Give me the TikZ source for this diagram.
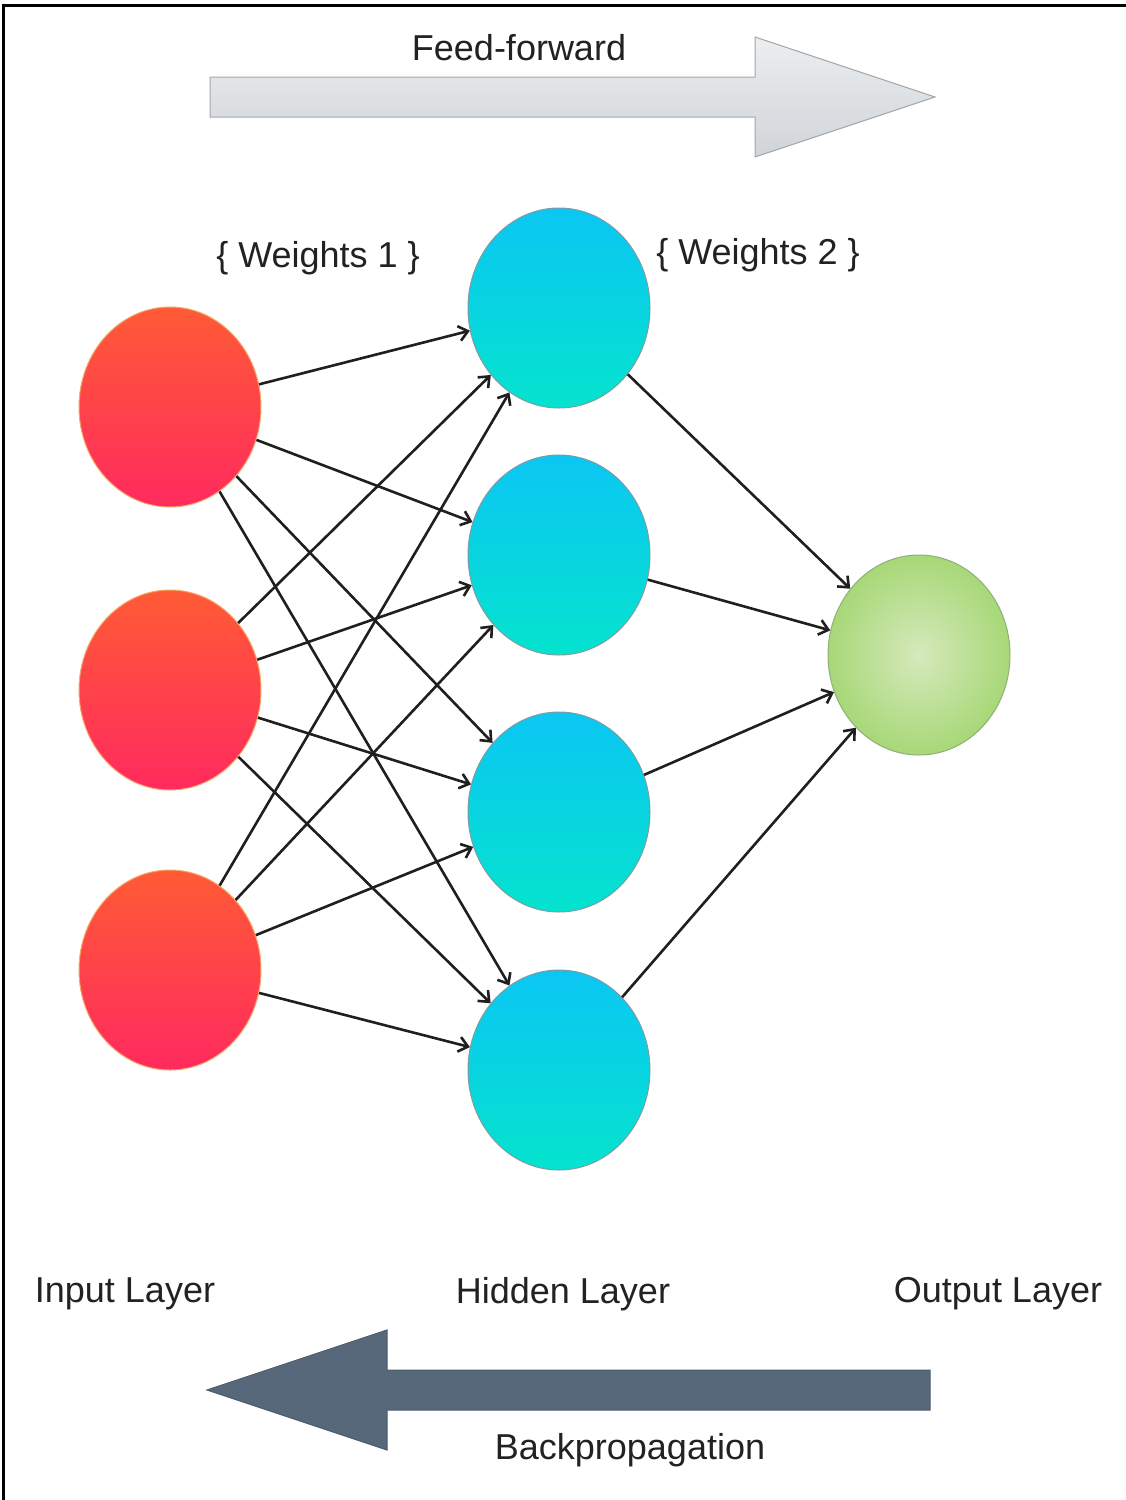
\documentclass[tikz,border=0pt]{standalone}
\usepackage{fontspec}
\setmainfont{Liberation Sans}
\usetikzlibrary{shapes.geometric,arrows.meta}
\definecolor{inTop}{HTML}{FF5B36}
\definecolor{inBot}{HTML}{FF2A5E}
\definecolor{inBorder}{HTML}{F4A868}
\definecolor{hidTop}{HTML}{0BC6F3}
\definecolor{hidBot}{HTML}{05E3CE}
\definecolor{hidBorder}{HTML}{7E9CA2}
\definecolor{outInner}{HTML}{D6E9BC}
\definecolor{outOuter}{HTML}{A7D877}
\definecolor{outBorder}{HTML}{8FAF78}
\definecolor{ffTop}{HTML}{ECEEF0}
\definecolor{ffBot}{HTML}{D0D4D8}
\definecolor{ffBorder}{HTML}{A3A7AB}
\definecolor{bpFill}{HTML}{56687A}
\definecolor{bpBorder}{HTML}{4C5C6C}
\definecolor{txt}{HTML}{222222}
\tikzset{
  neuron/.style={ellipse, minimum width=182pt, minimum height=200pt, inner sep=0pt, line width=1pt},
  inp/.style={neuron, top color=inTop, bottom color=inBot, draw=inBorder},
  hid/.style={neuron, top color=hidTop, bottom color=hidBot, draw=hidBorder},
  outn/.style={neuron, inner color=outInner, outer color=outOuter, draw=outBorder},
  conn/.style={-{Straight Barb[length=9pt,width=15pt]}, line width=2.6pt, color=black!88},
  lbl/.style={font=\fontsize{36}{40}\selectfont, text=txt, inner sep=0pt}
}
\begin{document}
\begin{tikzpicture}[x=1pt,y=-1pt]
\useasboundingbox (0,0) rectangle (1126,1500);
\fill[white] (0,0) rectangle (1126,1500);
% frame (left and top only)
\draw[line width=3pt, black] (3,1500) -- (3,5) -- (1126,5);

% feed-forward arrow
\draw[top color=ffTop, bottom color=ffBot, draw=ffBorder, line width=1pt]
  (210,77) -- (755,77) -- (755,37) -- (935,97) -- (755,157) -- (755,117) -- (210,117) -- cycle;
\node[lbl] (ff) at (519,48) {Feed-forward};

% backpropagation arrow
\draw[fill=bpFill, draw=bpBorder, line width=1pt]
  (930,1370) -- (387,1370) -- (387,1330) -- (207,1390) -- (387,1450) -- (387,1410) -- (930,1410) -- cycle;
\node[lbl] (bp) at (630,1450) {Backpropagation};

% neurons
\node[inp] (i1) at (170,407) {};
\node[inp] (i2) at (170,690) {};
\node[inp] (i3) at (170,970) {};
\node[hid] (h1) at (559,308) {};
\node[hid] (h2) at (559,555) {};
\node[hid] (h3) at (559,812) {};
\node[hid] (h4) at (559,1070) {};
\node[outn] (o) at (919,655) {};

% weights 1
\foreach \a in {i1,i2,i3}{
  \foreach \b in {h1,h2,h3,h4}{
    \draw[conn] (\a) -- (\b);
  }
}
% weights 2
\foreach \b in {h1,h2,h3,h4}{
  \draw[conn] (\b) -- (o);
}

% labels
\node[lbl] (w1) at (318,258) {\{ Weights 1 \}};
\node[lbl] (w2) at (758,255) {\{ Weights 2 \}};
\node[lbl] (il) at (125,1294) {Input Layer};
\node[lbl] (hl) at (563,1294) {Hidden Layer};
\node[lbl] (ol) at (998,1294) {Output Layer};
\end{tikzpicture}
\end{document}
